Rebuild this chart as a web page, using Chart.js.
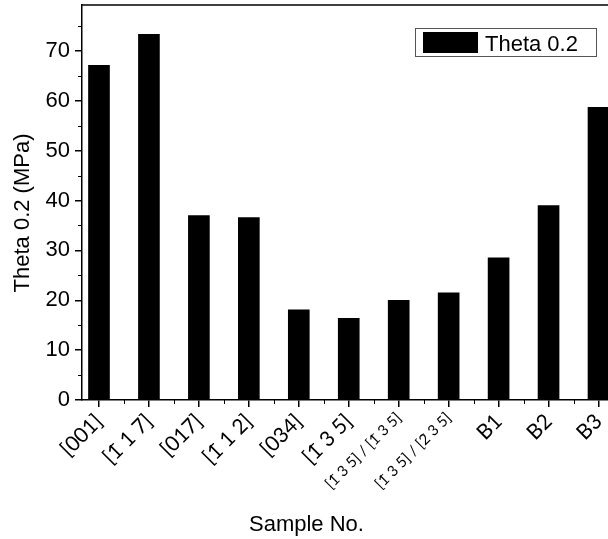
<!DOCTYPE html>
<html>
<head>
<meta charset="utf-8">
<script src="https://cdn.jsdelivr.net/npm/chart.js@4"></script>
<style>
html,body{margin:0;padding:0;background:#fff;}
canvas{display:block;}
</style>
</head>
<body>
<canvas id="c" width="608" height="539"></canvas>
<script>
const categories = ["[001]", "[1\u0304 1 7]", "[017]", "[1\u0304 1 2]", "[034]", "[1\u0304 3 5]",
  "[1\u0304 3 5] / [1\u0304 3 5]", "[1\u0304 3 5] / [2\u0304 3 5]", "B1", "B2", "B3"];
const theta02 = [67.1, 73.3, 37.0, 36.6, 18.1, 16.4, 20.0, 21.5, 28.5, 39.0, 58.7];
const seriesName = "Theta 0.2";
const yTitle = "Theta 0.2 (MPa)";
const xTitle = "Sample No.";

const AX = "'Liberation Sans', Arial, sans-serif";

const extras = {
  id: 'extras',
  afterDraw(chart) {
    const ctx = chart.ctx;
    const a = chart.chartArea;
    const xs = chart.scales.x, ys = chart.scales.y;
    ctx.save();
    ctx.strokeStyle = '#000';
    ctx.lineWidth = 1.5;
    // top frame line
    ctx.beginPath();
    ctx.moveTo(a.left, a.top);
    ctx.lineTo(a.right, a.top);
    ctx.stroke();
    // minor ticks y
    ctx.lineWidth = 1;
    for (let v = 5; v < ys.max; v += 10) {
      const py = Math.round(ys.getPixelForValue(v)) + 0.5;
      ctx.beginPath(); ctx.moveTo(a.left - 4, py); ctx.lineTo(a.left, py); ctx.stroke();
    }
    // minor ticks x
    for (let i = 0; i <= categories.length; i++) {
      const v = i + 0.5;
      if (v < xs.min || v > xs.max) continue;
      const px = Math.round(xs.getPixelForValue(v)) + 0.5;
      ctx.beginPath(); ctx.moveTo(px, a.bottom); ctx.lineTo(px, a.bottom + 4); ctx.stroke();
    }
    // legend
    ctx.lineWidth = 1;
    ctx.strokeStyle = '#555';
    ctx.strokeRect(415.5, 28.5, 181, 28);
    ctx.fillStyle = '#000';
    ctx.fillRect(423, 32, 55, 21);
    ctx.font = "22px " + AX;
    ctx.textBaseline = 'alphabetic';
    ctx.textAlign = 'left';
    ctx.fillText(chart.data.datasets[0].label, 485, 51);
    // y title
    ctx.save();
    ctx.translate(29, 213);
    ctx.rotate(-Math.PI / 2);
    ctx.textAlign = 'center';
    ctx.textBaseline = 'alphabetic';
    ctx.fillText(yTitle, 0, 0);
    ctx.restore();
    // x title
    ctx.textAlign = 'left';
    ctx.fillText(xTitle, 249, 531);
    ctx.restore();
  }
};

new Chart(document.getElementById('c'), {
  type: 'bar',
  data: {
    datasets: [{
      label: seriesName,
      data: theta02.map((v, i) => ({x: i + 1, y: v})),
      backgroundColor: '#000',
      borderColor: '#000',
      borderWidth: 0,
      barThickness: 21
    }]
  },
  options: {
    responsive: false,
    devicePixelRatio: 1,
    animation: false,
    layout: {padding: {top: 5, right: 0, bottom: 0, left: 0}},
    plugins: {legend: {display: false}, tooltip: {enabled: false}},
    scales: {
      x: {
        type: 'linear',
        offset: false,
        min: 0.66,
        max: 11.19,
        grid: {display: true, offset: false, drawOnChartArea: false, drawTicks: true, tickLength: 7, color: '#000', lineWidth: 1.5},
        border: {display: true, color: '#000', width: 1.5},
        ticks: {
          stepSize: 1,
          includeBounds: false,
          autoSkip: false,
          minRotation: 45,
          maxRotation: 45,
          padding: 2,
          color: '#000',
          font: (c) => {
            const v = c.tick ? c.tick.value : 0;
            const lab = categories[Math.round(v) - 1] || '';
            return {family: "Lato, 'Open Sans', sans-serif", size: lab.length > 12 ? 15 : 21};
          },
          callback: (v) => Number.isInteger(v) ? (categories[v - 1] || '') : ''
        },
        afterFit: (s) => { s.height = 139; s.paddingLeft = 0; s.paddingRight = 0; }
      },
      y: {
        min: 0,
        max: 79.2,
        grid: {display: true, drawOnChartArea: false, drawTicks: true, tickLength: 7, color: '#000', lineWidth: 1.5},
        border: {display: true, color: '#000', width: 1.5},
        ticks: {
          stepSize: 10,
          includeBounds: false,
          padding: 5,
          color: '#000',
          font: {family: AX, size: 22}
        },
        afterFit: (s) => { s.width = 82; s.paddingTop = 0; s.paddingBottom = 0; }
      }
    }
  },
  plugins: [extras]
});
</script>
</body>
</html>
